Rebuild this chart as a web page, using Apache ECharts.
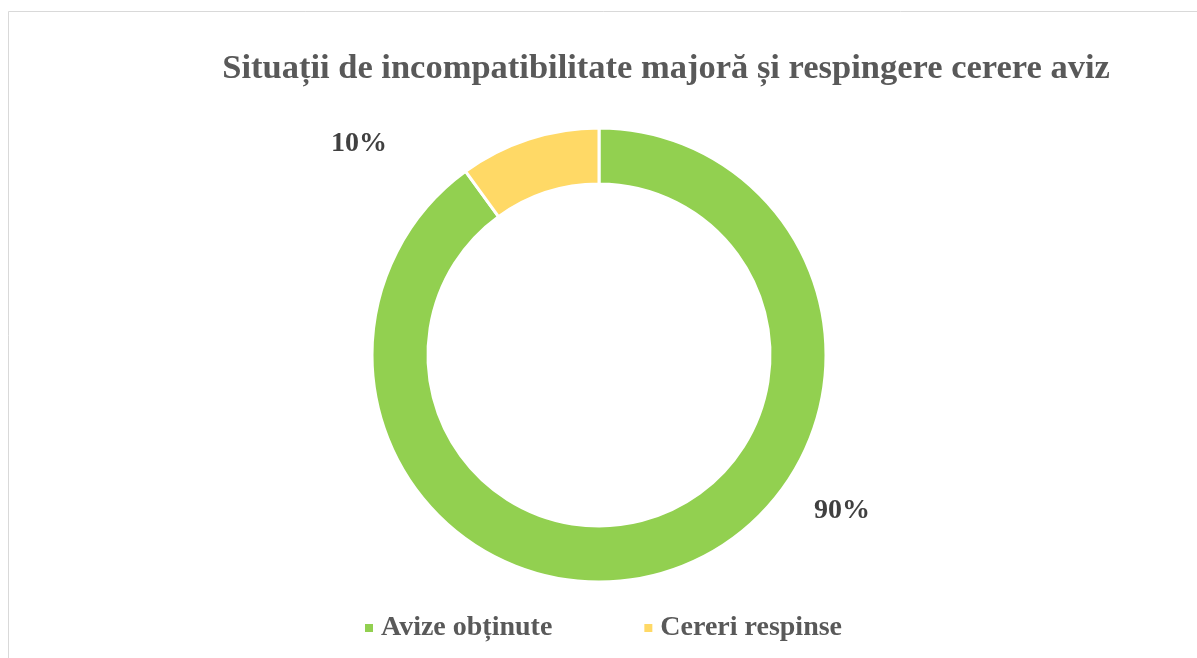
<!DOCTYPE html>
<html>
<head>
<meta charset="utf-8">
<script src="https://cdn.jsdelivr.net/npm/echarts@6/dist/echarts.min.js"></script>
<style>
  html, body { margin: 0; padding: 0; background: #fff; }
  #chart { width: 1197px; height: 658px; }
</style>
</head>
<body>
<div id="chart"></div>
<script>
const titleText = 'Situații de incompatibilitate majoră și respingere cerere aviz'
const categories = ['Avize obținute', 'Cereri respinse']
const values = [90, 10]
const colors = ['#92D050', '#FFD966']
// label anchor points (text centres) as in the reference
const labelSpots = [[842, 511], [359, 144]]

const serif = '"Liberation Serif", "Times New Roman", serif'
const myChart = echarts.init(document.getElementById('chart'))

const option = {
  backgroundColor: '#fff',
  animation: false,
  graphic: [
    {
      type: 'rect',
      shape: { x: 8.5, y: 11.5, width: 1300, height: 800 },
      style: { fill: 'none', stroke: '#d9d9d9', lineWidth: 1 },
      silent: true
    }
  ],
  title: {
    text: titleText,
    left: 661,
    top: 47,
    textAlign: 'center',
    textStyle: {
      fontFamily: serif,
      fontWeight: 'bold',
      fontSize: 34.5,
      color: '#595959'
    }
  },
  legend: {
    data: categories,
    left: 358,
    top: 609,
    itemGap: 90,
    itemWidth: 10,
    itemHeight: 10,
    icon: 'rect',
    textStyle: {
      fontFamily: serif,
      fontWeight: 'bold',
      fontSize: 28,
      color: '#595959',
      padding: [0, 0, 0, 2]
    }
  },
  series: [
    {
      type: 'pie',
      center: [599, 355],
      radius: [171, 227],
      startAngle: 90,
      clockwise: true,
      itemStyle: { borderColor: '#fff', borderWidth: 3 },
      label: {
        show: true,
        position: 'outside',
        formatter: '{d}%',
        fontFamily: serif,
        fontWeight: 'bold',
        fontSize: 28,
        color: '#404040'
      },
      labelLine: { show: false },
      labelLayout: function (p) {
        const s = labelSpots[p.dataIndex]
        return { x: s[0], y: s[1], align: 'center', verticalAlign: 'middle' }
      },
      data: categories.map((name, i) => ({
        name: name,
        value: values[i],
        itemStyle: { color: colors[i] }
      }))
    }
  ]
}
myChart.setOption(option)
window.addEventListener('resize', () => myChart.resize())
</script>
</body>
</html>
